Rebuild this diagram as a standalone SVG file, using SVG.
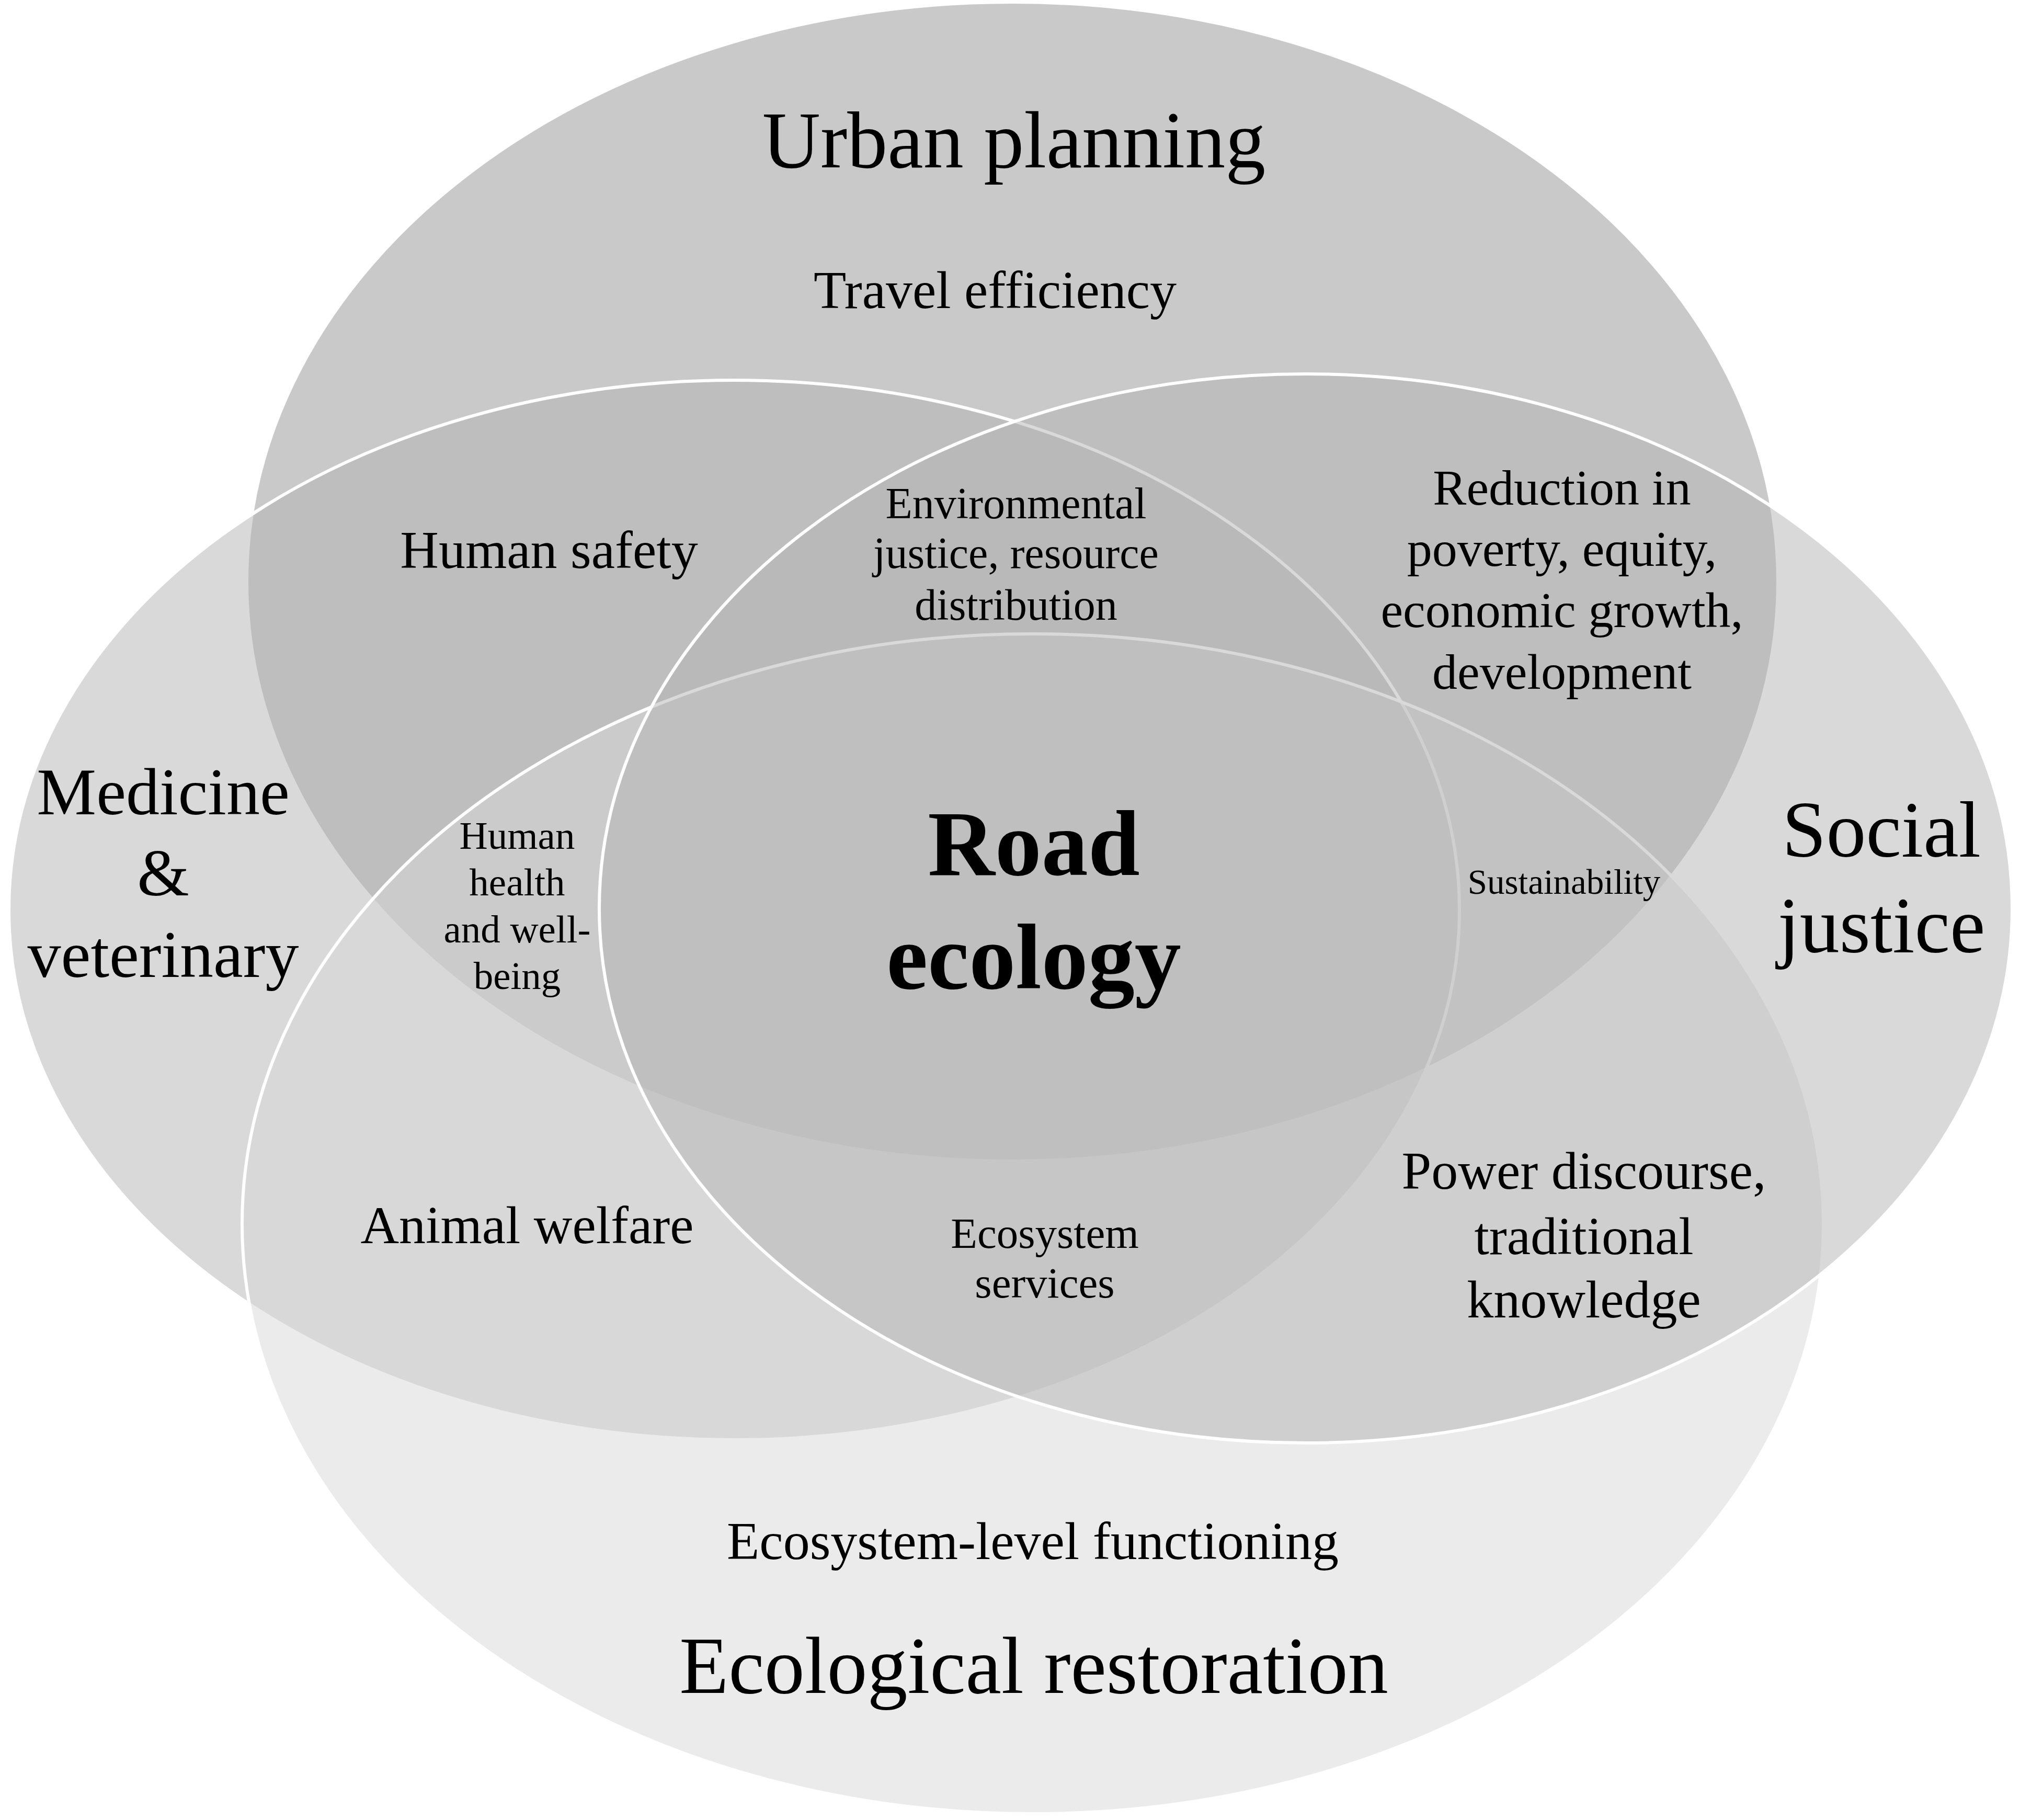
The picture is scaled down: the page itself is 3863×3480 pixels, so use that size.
<svg xmlns="http://www.w3.org/2000/svg" width="3863" height="3480" viewBox="0 0 3863 3480">
<style>
.shape{stroke:#ffffff;stroke-width:6}
.t{font-family:"Liberation Serif","Times New Roman",serif;fill:#000000;text-anchor:middle}
.big{font-size:154px}
.mid{font-size:102px}
</style>
<rect x="0" y="0" width="3863" height="3480" fill="#ffffff"/>
<g id="urban-planning">
<ellipse class="shape" cx="1936" cy="1112" rx="1464" ry="1108" fill="#c9c9c9"/>
</g>
<g id="medicine-veterinary">
<ellipse class="shape" cx="1404" cy="1740" rx="1387" ry="1013" fill="#b3b3b3" fill-opacity="0.5"/>
</g>
<g id="ecological-restoration">
<ellipse class="shape" cx="1975" cy="2340" rx="1512" ry="1128" fill="#d7d7d7" fill-opacity="0.5"/>
</g>
<g id="social-justice">
<ellipse class="shape" cx="2497" cy="1737" rx="1351" ry="1022" fill="#b3b3b3" fill-opacity="0.5"/>
</g>
<g id="labels">
<g id="label-urban-planning"><text class="t big" x="1939" y="320">Urban planning</text></g>
<g id="label-travel-efficiency"><text class="t mid" x="1903" y="589">Travel efficiency</text></g>
<g id="label-human-safety"><text class="t mid" x="1050" y="1086">Human safety</text></g>
<g id="label-environmental-justice"><text class="t" font-size="84" x="1943"><tspan x="1943" y="991">Environmental</tspan><tspan x="1943" y="1086">justice, resource</tspan><tspan x="1943" y="1185">distribution</tspan></text></g>
<g id="label-reduction-in-poverty"><text class="t" font-size="96" x="2987"><tspan x="2987" y="965">Reduction in</tspan><tspan x="2987" y="1082">poverty, equity,</tspan><tspan x="2987" y="1199">economic growth,</tspan><tspan x="2987" y="1317">development</tspan></text></g>
<g id="label-medicine"><text class="t" font-size="128" x="312"><tspan x="312" y="1557">Medicine</tspan><tspan x="312" y="1712">&amp;</tspan><tspan x="312" y="1868">veterinary</tspan></text></g>
<g id="label-social-justice"><text class="t" font-size="152" x="3598"><tspan x="3598" y="1638">Social</tspan><tspan x="3598" y="1821">justice</tspan></text></g>
<g id="label-road-ecology"><text class="t" font-size="178" font-weight="bold" x="1977"><tspan x="1977" y="1673">Road</tspan><tspan x="1977" y="1890">ecology</tspan></text></g>
<g id="label-human-health"><text class="t" font-size="75" x="989"><tspan x="989" y="1623">Human</tspan><tspan x="989" y="1712">health</tspan><tspan x="989" y="1802">and well-</tspan><tspan x="989" y="1891">being</tspan></text></g>
<g id="label-sustainability"><text class="t" font-size="67" x="2991" y="1709">Sustainability</text></g>
<g id="label-animal-welfare"><text class="t mid" x="1008" y="2377">Animal welfare</text></g>
<g id="label-ecosystem-services"><text class="t" font-size="83" x="1998"><tspan x="1998" y="2386">Ecosystem</tspan><tspan x="1998" y="2481">services</tspan></text></g>
<g id="label-power-discourse"><text class="t mid" x="3029"><tspan x="3029" y="2273">Power discourse,</tspan><tspan x="3029" y="2398">traditional</tspan><tspan x="3029" y="2519">knowledge</tspan></text></g>
<g id="label-ecosystem-level"><text class="t mid" x="1975" y="2981">Ecosystem-level functioning</text></g>
<g id="label-ecological-restoration"><text class="t big" x="1977" y="3237">Ecological restoration</text></g>
</g>
</svg>
